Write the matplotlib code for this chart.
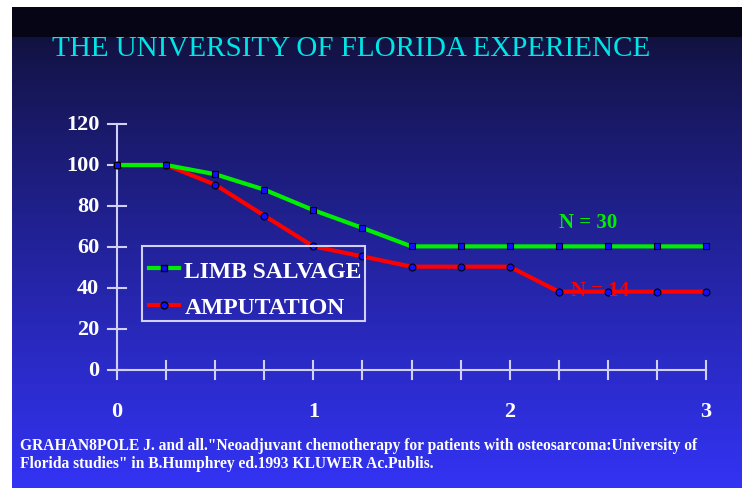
import numpy as np
import matplotlib.pyplot as plt
from matplotlib.lines import Line2D
from matplotlib.patches import Rectangle

years = [0, 0.25, 0.5, 0.75, 1.0, 1.25, 1.5, 1.75, 2.0, 2.25, 2.5, 2.75, 3.0]
limb_salvage = [100, 100, 95.5, 88, 78, 69.3, 60.3, 60.3, 60.3, 60.3, 60.3, 60.3, 60.3]
amputation = [100, 100, 90.4, 75.3, 60.3, 55.4, 50.4, 50.4, 50.4, 38.2, 38.2, 38.2, 38.2]
x_ticklabels = ["0", "1", "2", "3"]
y_ticks = [0, 20, 40, 60, 80, 100, 120]

W, H = 746, 489
fig = plt.figure(figsize=(W / 100, H / 100), dpi=100, facecolor="white")

# background gradient slide
bg = fig.add_axes([12 / W, 0, (742 - 12) / W, (H - 8) / H])
bg.set_axis_off()
ny = 480
grad = np.zeros((ny, 1, 3))
top_dark = np.array([0.02, 0.02, 0.09])
c1 = np.array([0.07, 0.07, 0.25])
c2 = np.array([0.20, 0.20, 0.96])
for i in range(ny):
    if i < 30:
        grad[i, 0] = top_dark
    else:
        t = (i - 30) / (ny - 30)
        grad[i, 0] = c1 + (c2 - c1) * t ** 0.9
bg.imshow(grad, aspect="auto", extent=[0, 1, 0, 1], origin="upper")
bg.set_xlim(0, 1)
bg.set_ylim(0, 1)

serif = ["Liberation Serif", "DejaVu Serif"]
axcol = "#d0d0f8"

ax = fig.add_axes([117 / W, (H - 371) / H, (706 - 117) / W, (371 - 125) / H])
ax.patch.set_alpha(0)
ax.set_xlim(0, 3)
ax.set_ylim(0, 120)
for s in ax.spines.values():
    s.set_visible(False)
ax.set_xticks([])
ax.set_yticks([])

# axis lines
ax.plot([0, 3], [0, 0], color=axcol, lw=1.5, clip_on=False, zorder=2)
ax.plot([0, 0], [0, 120], color=axcol, lw=1.5, clip_on=False, zorder=2)
# y ticks crossing
for yv in y_ticks:
    ax.plot([-0.045, 0.045], [yv, yv], color=axcol, lw=1.5, clip_on=False, zorder=2)
    ax.text(-0.09, yv, str(yv), color="white", fontsize=16, fontweight="bold",
            family=serif, ha="right", va="center")
# x ticks crossing
for xv in years:
    ax.plot([xv, xv], [-4.3, 4.3], color=axcol, lw=1.5, clip_on=False, zorder=2)
for i, lab in enumerate(x_ticklabels):
    ax.text(i, -20, lab, color="white", fontsize=16, fontweight="bold",
            family=serif, ha="center", va="center")

ax.plot(years, limb_salvage, color="#00ee00", lw=3, marker="s", ms=5,
        mfc="#1010ff", mec="black", mew=0.8, clip_on=False, zorder=4)
ax.plot(years, amputation, color="#ff0000", lw=3, marker="o", ms=5,
        mfc="#1010ff", mec="black", mew=0.8, clip_on=False, zorder=3)

ax.text(2.4, 72, "N = 30", color="#00ee00", fontsize=15, fontweight="bold",
        family=serif, ha="center", va="center")
ax.text(2.46, 38.8, "N = 14", color="#ff0000", fontsize=15, fontweight="bold",
        family=serif, ha="center", va="center", zorder=5)

# legend frame (drawn in figure pixel coordinates)
fig.patches.append(Rectangle((142 / W, 1 - 322 / H), (365 - 142) / W, (322 - 247) / H,
                             transform=fig.transFigure, fill=False, edgecolor=axcol,
                             lw=1.5, zorder=5))
handles = [
    Line2D([], [], color="#00ee00", lw=3, marker="s", ms=5, mfc="#1010ff", mec="black"),
    Line2D([], [], color="#ff0000", lw=3, marker="o", ms=5, mfc="#1010ff", mec="black"),
]
leg = fig.legend(handles, ["LIMB SALVAGE", "AMPUTATION"], loc="center left",
                 bbox_to_anchor=(149 / W, 1 - 290 / H),
                 borderaxespad=0, frameon=False, handlelength=1.25,
                 handletextpad=0.25, borderpad=0, labelspacing=0.62,
                 prop={"family": serif, "weight": "bold", "size": 17})
for t in leg.get_texts():
    t.set_color("white")

fig.text(52 / W, 1 - 49 / H, "THE UNIVERSITY OF FLORIDA EXPERIENCE", color="#00e5e5",
         fontsize=21, family=serif, ha="left", va="center")

fig.text(20 / W, 1 - 446 / H,
         "GRAHAN8POLE J. and all.\"Neoadjuvant chemotherapy for patients with osteosarcoma:University of",
         color="white", fontsize=11.2, fontweight="bold", family=serif, ha="left", va="center")
fig.text(20 / W, 1 - 464 / H,
         "Florida studies\" in B.Humphrey ed.1993 KLUWER Ac.Publis.",
         color="white", fontsize=11.2, fontweight="bold", family=serif, ha="left", va="center")

fig.savefig("out.png", dpi=100, facecolor="white")
